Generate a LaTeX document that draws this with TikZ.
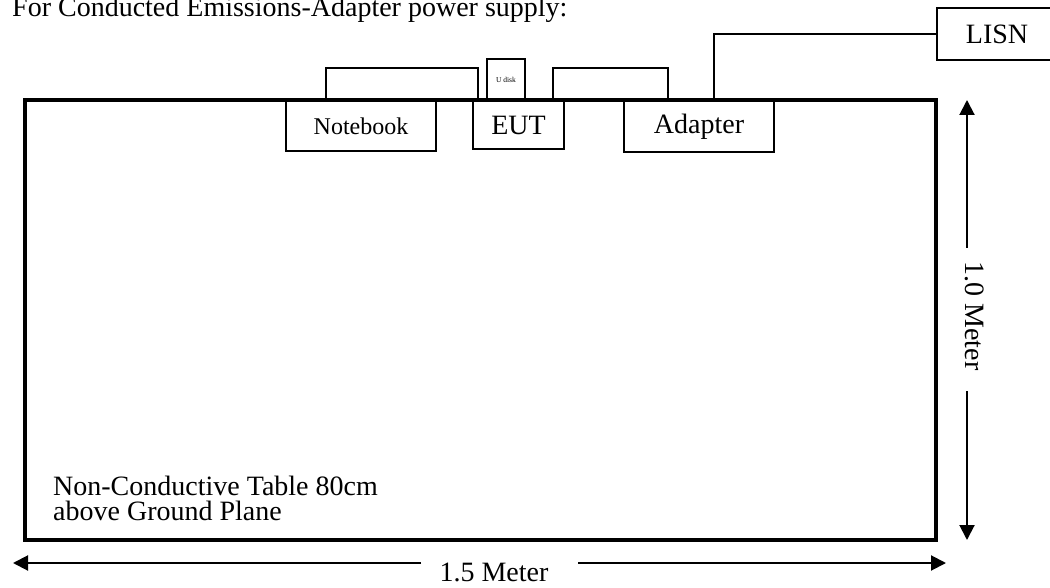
\documentclass[tikz,border=0pt]{standalone}
\usepackage{fontspec}
\setmainfont{Liberation Serif}
\usetikzlibrary{arrows.meta}
\begin{document}
\begin{tikzpicture}[x=1pt,y=-1pt,
  big/.style={font=\fontsize{28}{32}\selectfont},
  devbox/.style={draw,line width=1.5pt,inner sep=0pt,big},
  cable/.style={line width=1.3pt},
  dimline/.style={line width=2pt},
  dimtip/.style={line width=2pt,-{Triangle[width=15pt,length=15pt]}}]
\useasboundingbox (0,0) rectangle (1050,588);
\fill[white] (0,0) rectangle (1050,588);
% title
\node[anchor=base west,inner sep=0pt,big] (title) at (12,17) {For Conducted Emissions-Adapter power supply:};
% table
\node[draw,line width=3.5pt,minimum width=911pt,minimum height=440pt,inner sep=0pt] (table) at (480.5,320) {};
% devices
\node[devbox,minimum width=150pt,minimum height=50pt] (nb) at (361,126) {\fontsize{24}{28}\selectfont Notebook};
\node[devbox,minimum width=91pt,minimum height=48pt] (eut) at (518.5,125) {EUT};
\node[devbox,minimum width=150pt,minimum height=51pt] (adp) at (699,126.5) {Adapter};
\node[draw,line width=1.5pt,inner sep=0pt,minimum width=38pt,minimum height=41pt,font=\fontsize{7.5}{9}\selectfont] (udisk) at (506,79.5) {U disk};
\node[devbox,minimum width=120pt,minimum height=52pt] (lisn) at (997,34) {LISN};
% cables
\coordinate (c1a) at (326,100);
\coordinate (c1b) at (478,100);
\coordinate (c2a) at (553,100);
\coordinate (c2b) at (668,100);
\coordinate (c3a) at (714,100);
\draw[cable] (c1a) -- (326,68) -- (478,68) -- (c1b);
\draw[cable] (c2a) -- (553,68) -- (668,68) -- (c2b);
\draw[cable] (c3a) |- (lisn.west);
% vertical dimension
\coordinate (vtop) at (967,100);
\coordinate (vbot) at (967,540);
\coordinate (v1) at (967,248);
\coordinate (v2) at (967,391);
\draw[dimtip] (v1) -- (vtop);
\draw[dimtip] (v2) -- (vbot);
\node[big,rotate=-90,anchor=base,inner sep=0pt] (vlab) at (965,316) {1.0 Meter};
% horizontal dimension
\coordinate (hl) at (13,563);
\coordinate (hr) at (946,563);
\coordinate (h1) at (421,563);
\coordinate (h2) at (578,563);
\draw[dimtip] (h1) -- (hl);
\draw[dimtip] (h2) -- (hr);
\node[big,anchor=base,inner sep=0pt] (hlab) at (494,581) {1.5 Meter};
% table label
\node[big,anchor=base west,inner sep=0pt] (tl1) at (53,495) {Non-Conductive Table 80cm};
\node[big,anchor=base west,inner sep=0pt] (tl2) at (53,520) {above Ground Plane};
\end{tikzpicture}
\end{document}
